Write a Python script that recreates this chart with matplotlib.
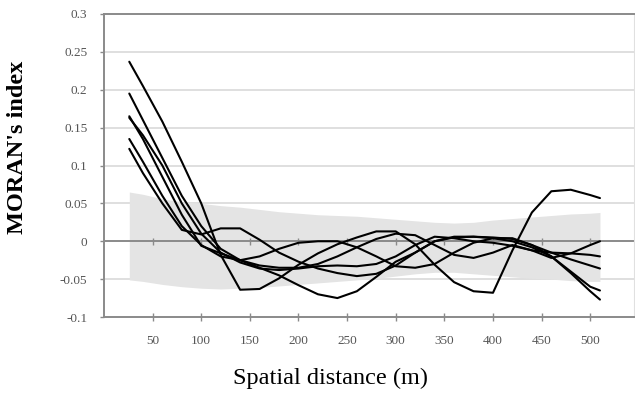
import numpy as np
import matplotlib
matplotlib.use("Agg")
import matplotlib.pyplot as plt

plt.rcParams["font.family"] = ["Liberation Serif", "DejaVu Serif"]

# distances (m) at which the correlograms were read
dist = [26, 40, 60, 80, 100, 120, 140, 160, 180, 200, 220, 240, 260, 280, 300,
        320, 340, 360, 380, 400, 420, 440, 460, 480, 500, 510]

# Moran's I curves
moran_a = [0.237, 0.205, 0.158, 0.105, 0.050, -0.018, -0.064, -0.063, -0.049, -0.031,
           -0.016, -0.004, 0.005, 0.013, 0.013, -0.004, -0.031, -0.054, -0.066, -0.068,
           -0.012, 0.038, 0.066, 0.068, 0.061, 0.057]
moran_b = [0.122, 0.090, 0.050, 0.015, 0.009, 0.017, 0.017, 0.002, -0.015, -0.027,
           -0.036, -0.042, -0.046, -0.043, -0.032, -0.015, 0.000, 0.005, 0.006, 0.004,
           0.000, -0.008, -0.020, -0.040, -0.060, -0.065]
moran_c = [0.165, 0.135, 0.085, 0.035, -0.006, -0.016, -0.025, -0.035, -0.045, -0.058,
           -0.070, -0.075, -0.066, -0.047, -0.027, -0.015, 0.000, 0.006, 0.006, 0.005,
           0.003, -0.005, -0.020, -0.042, -0.066, -0.077]
moran_d = [0.195, 0.160, 0.110, 0.060, 0.020, -0.010, -0.025, -0.032, -0.035, -0.035,
           -0.030, -0.020, -0.008, 0.003, 0.010, 0.008, -0.005, -0.018, -0.022, -0.015,
           -0.005, -0.012, -0.022, -0.016, -0.005, 0.000]
moran_e = [0.163, 0.140, 0.100, 0.050, 0.010, -0.015, -0.028, -0.036, -0.038, -0.036,
           -0.033, -0.032, -0.033, -0.030, -0.020, -0.005, 0.006, 0.004, 0.000, -0.002,
           -0.006, -0.012, -0.015, -0.016, -0.018, -0.020]
moran_f = [0.135, 0.105, 0.060, 0.020, -0.005, -0.020, -0.025, -0.020, -0.010, -0.002,
           0.000, 0.000, -0.008, -0.020, -0.033, -0.035, -0.030, -0.015, -0.002, 0.004,
           0.004, -0.005, -0.015, -0.024, -0.032, -0.036]

# confidence envelope
env_upper = [0.065, 0.062, 0.056, 0.052, 0.050, 0.047, 0.045, 0.042, 0.039, 0.037,
             0.035, 0.034, 0.033, 0.031, 0.029, 0.027, 0.025, 0.024, 0.025, 0.028,
             0.030, 0.032, 0.034, 0.036, 0.037, 0.038]
env_lower = [-0.051, -0.053, -0.057, -0.060, -0.062, -0.063, -0.062, -0.061, -0.059, -0.057,
             -0.055, -0.053, -0.051, -0.049, -0.046, -0.043, -0.041, -0.041, -0.043, -0.045,
             -0.047, -0.049, -0.050, -0.052, -0.053, -0.053]

xticks = [50, 100, 150, 200, 250, 300, 350, 400, 450, 500]
yticks = [-0.1, -0.05, 0, 0.05, 0.1, 0.15, 0.2, 0.25, 0.3]
ytick_labels = ["-0.1", "-0.05", "0", "0.05", "0.1", "0.15", "0.2", "0.25", "0.3"]

fig = plt.figure(figsize=(6.35, 3.96), dpi=100)
ax = fig.add_axes([104 / 635, 79 / 396, 530 / 635, 303 / 396])

ax.fill_between(dist, env_lower, env_upper, color="#e4e4e4", lw=0, zorder=1)

for yy in yticks[1:-1]:
    if yy != 0:
        ax.axhline(yy, color="#dcdcdc", lw=1.3, zorder=0.5)
ax.axhline(0, color="#8a8a8a", lw=1.4, zorder=2)
# tick marks on the zero line
ax.vlines(xticks, -0.0045, 0.0045, color="#8a8a8a", lw=1, zorder=2)

for series in [moran_a, moran_b, moran_c, moran_d, moran_e, moran_f]:
    ax.plot(dist, series, color="black", lw=1.5, zorder=3,
            solid_joinstyle="round", solid_capstyle="round")

ax.set_xlim(0, 545)
ax.set_ylim(-0.1, 0.3)

ax.set_yticks(yticks)
ax.set_yticklabels(ytick_labels)
ax.set_xticks(xticks)
ax.set_xticklabels([str(v) for v in xticks])

ax.tick_params(axis="y", direction="out", length=3, width=1, color="#8a8a8a",
               labelsize=9.5, labelcolor="#555555", pad=9)
ax.tick_params(axis="x", direction="inout", length=6, width=1, color="#8a8a8a",
               labelsize=9.5, labelcolor="#555555", pad=10)

for side in ["left", "bottom", "top"]:
    ax.spines[side].set_color("#8a8a8a")
    ax.spines[side].set_linewidth(1.4)
ax.spines["right"].set_color("#e0e0e0")

fig.text(0.0276, 0.628, "MORAN's index", rotation=90, fontsize=17.5,
         fontweight="bold", ha="center", va="center")
fig.text(0.521, 0.045, "Spatial distance (m)", fontsize=17.5,
         ha="center", va="center")

fig.savefig("out.png", dpi=100)
